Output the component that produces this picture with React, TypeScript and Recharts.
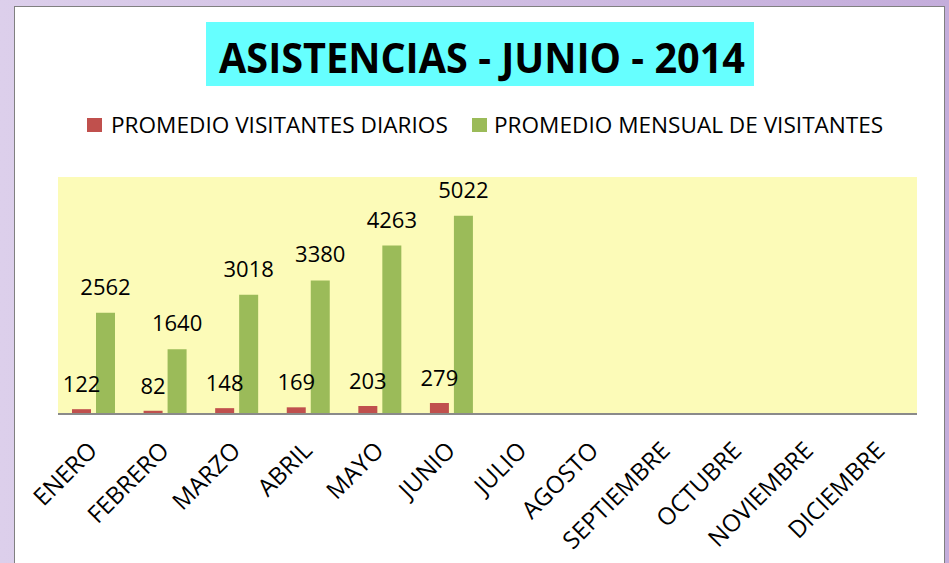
import { BarChart, Bar, XAxis, YAxis, CartesianGrid, LabelList, Legend } from 'recharts'

const TITLE = 'ASISTENCIAS - JUNIO - 2014'
const MONTHS = [
  'ENERO',
  'FEBRERO',
  'MARZO',
  'ABRIL',
  'MAYO',
  'JUNIO',
  'JULIO',
  'AGOSTO',
  'SEPTIEMBRE',
  'OCTUBRE',
  'NOVIEMBRE',
  'DICIEMBRE',
]
// only January..June have data so far
const DAILY_AVG = [122, 82, 148, 169, 203, 279, null, null, null, null, null, null]
const MONTHLY_AVG = [2562, 1640, 3018, 3380, 4263, 5022, null, null, null, null, null, null]

const SERIES_NAMES = ['PROMEDIO VISITANTES DIARIOS', 'PROMEDIO MENSUAL DE VISITANTES']
const SERIES_COLORS = ['#C0504D', '#9BBB59']

const FONT = '"Open Sans", "DejaVu Sans", sans-serif'

const chartData = MONTHS.map((month, i) => ({
  month,
  daily: DAILY_AVG[i],
  monthly: MONTHLY_AVG[i],
}))

const MonthTick = (props: any) => {
  const { x, y, payload } = props
  const tx = x + 5
  const ty = y + 38
  return (
    <text
      x={tx}
      y={ty}
      transform={`rotate(-45 ${tx} ${ty})`}
      textAnchor="end"
      fontSize={24}
      fontFamily={FONT}
      fill="#000"
    >
      {payload.value}
    </text>
  )
}

const LegendContent = (props: any) => {
  const { payload } = props
  // keep the series order (recharts sorts legend items by name)
  const items = SERIES_NAMES.map((name) => payload.find((p: any) => p.value === name)).filter(Boolean)
  return (
    <div style={{ display: 'flex', paddingLeft: 87, fontFamily: FONT, fontSize: 22.6, color: '#000' }}>
      {items.map((item: any, i: number) => (
        <div key={item.value} style={{ display: 'flex', alignItems: 'center', width: i === 0 ? 385 : 'auto' }}>
          <div style={{ width: 15, height: 14, background: item.color, marginRight: i === 0 ? 9 : 7 }} />
          <span style={{ lineHeight: '30px' }}>{item.value}</span>
        </div>
      ))}
    </div>
  )
}

export default function App() {
  return (
    <div
      style={{
        position: 'absolute',
        left: 0,
        top: 0,
        width: 949,
        height: 563,
        overflow: 'hidden',
        background: 'linear-gradient(90deg, #dccfeb 0%, #c4addb 100%)',
        fontFamily: FONT,
      }}
    >
      <div
        style={{
          position: 'absolute',
          left: 14,
          top: 6,
          width: 929,
          height: 600,
          background: '#ffffff',
          border: '1px solid #808080',
        }}
      />
      <svg width={949} height={100} style={{ position: 'absolute', left: 0, top: 0 }}>
        <rect x={206} y={22} width={548} height={64} fill="#66FFFF" />
        <text
          x={482}
          y={73}
          textAnchor="middle"
          fontSize={42}
          fontWeight="bold"
          fontFamily={FONT}
          textLength={526}
          lengthAdjust="spacingAndGlyphs"
          fill="#000"
        >
          {TITLE}
        </text>
      </svg>
      <div style={{ position: 'absolute', left: 0, top: 0 }}>
        <BarChart
          width={949}
          height={563}
          data={chartData}
          margin={{ top: 177, right: 32, left: 58, bottom: 0 }}
          barSize={19}
          barGap={5}
        >
          <CartesianGrid fill="#FCFBB8" stroke="none" horizontal={false} vertical={false} />
          <XAxis
            dataKey="month"
            height={149}
            interval={0}
            tickLine={false}
            tickSize={0}
            tickMargin={0}
            axisLine={{ stroke: '#8a8a8a', strokeWidth: 2 }}
            tick={<MonthTick />}
          />
          <YAxis hide domain={[0, 6000]} />
          <Legend
            layout="horizontal"
            verticalAlign="middle"
            align="center"
            wrapperStyle={{ top: 110, left: 0, width: 949 }}
            content={<LegendContent />}
          />
          <Bar dataKey="daily" name={SERIES_NAMES[0]} fill={SERIES_COLORS[0]} isAnimationActive={false}>
            <LabelList dataKey="daily" position="top" offset={17} fontSize={22} fontFamily={FONT} fill="#000" />
          </Bar>
          <Bar dataKey="monthly" name={SERIES_NAMES[1]} fill={SERIES_COLORS[1]} isAnimationActive={false}>
            <LabelList dataKey="monthly" position="top" offset={18} fontSize={22} fontFamily={FONT} fill="#000" />
          </Bar>
        </BarChart>
      </div>
    </div>
  )
}
